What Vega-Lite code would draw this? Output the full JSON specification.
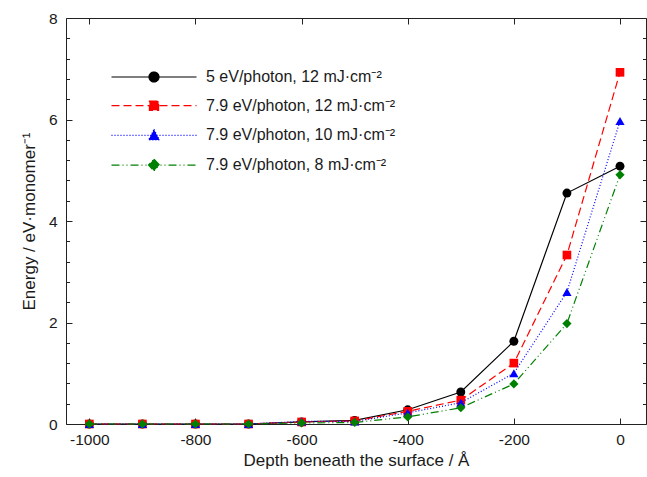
{
  "$schema": "https://vega.github.io/schema/vega-lite/v6.json",
  "width": 580,
  "height": 406,
  "autosize": {"type": "none"},
  "padding": {"left": 66, "top": 18, "right": 1, "bottom": 53},
  "config": {
    "view": {"stroke": "#222", "strokeWidth": 1},
    "font": "Liberation Sans",
    "axis": {"grid": false, "domain": false, "tickColor": "#222", "tickWidth": 1, "labelColor": "#1a1a1a", "titleColor": "#1a1a1a", "labelFont": "Liberation Sans", "titleFont": "Liberation Sans", "labelFontSize": 15.5, "titleFontSize": 17, "titleFontWeight": "normal", "labelFlush": false, "labelOverlap": false}
  },
  "data": {"values": [
    {"x": -1000, "y": 0, "s": "5 eV/photon, 12 mJ·cm⁻²"},
    {"x": -900, "y": 0, "s": "5 eV/photon, 12 mJ·cm⁻²"},
    {"x": -800, "y": 0, "s": "5 eV/photon, 12 mJ·cm⁻²"},
    {"x": -700, "y": 0, "s": "5 eV/photon, 12 mJ·cm⁻²"},
    {"x": -600, "y": 0.04, "s": "5 eV/photon, 12 mJ·cm⁻²"},
    {"x": -500, "y": 0.07, "s": "5 eV/photon, 12 mJ·cm⁻²"},
    {"x": -400, "y": 0.28, "s": "5 eV/photon, 12 mJ·cm⁻²"},
    {"x": -300, "y": 0.63, "s": "5 eV/photon, 12 mJ·cm⁻²"},
    {"x": -200, "y": 1.63, "s": "5 eV/photon, 12 mJ·cm⁻²"},
    {"x": -100, "y": 4.55, "s": "5 eV/photon, 12 mJ·cm⁻²"},
    {"x": 0, "y": 5.08, "s": "5 eV/photon, 12 mJ·cm⁻²"},
    {"x": -1000, "y": 0, "s": "7.9 eV/photon, 12 mJ·cm⁻²"},
    {"x": -900, "y": 0, "s": "7.9 eV/photon, 12 mJ·cm⁻²"},
    {"x": -800, "y": 0, "s": "7.9 eV/photon, 12 mJ·cm⁻²"},
    {"x": -700, "y": 0, "s": "7.9 eV/photon, 12 mJ·cm⁻²"},
    {"x": -600, "y": 0.04, "s": "7.9 eV/photon, 12 mJ·cm⁻²"},
    {"x": -500, "y": 0.06, "s": "7.9 eV/photon, 12 mJ·cm⁻²"},
    {"x": -400, "y": 0.25, "s": "7.9 eV/photon, 12 mJ·cm⁻²"},
    {"x": -300, "y": 0.47, "s": "7.9 eV/photon, 12 mJ·cm⁻²"},
    {"x": -200, "y": 1.2, "s": "7.9 eV/photon, 12 mJ·cm⁻²"},
    {"x": -100, "y": 3.33, "s": "7.9 eV/photon, 12 mJ·cm⁻²"},
    {"x": 0, "y": 6.93, "s": "7.9 eV/photon, 12 mJ·cm⁻²"},
    {"x": -1000, "y": 0, "s": "7.9 eV/photon, 10 mJ·cm⁻²"},
    {"x": -900, "y": 0, "s": "7.9 eV/photon, 10 mJ·cm⁻²"},
    {"x": -800, "y": 0, "s": "7.9 eV/photon, 10 mJ·cm⁻²"},
    {"x": -700, "y": 0, "s": "7.9 eV/photon, 10 mJ·cm⁻²"},
    {"x": -600, "y": 0.05, "s": "7.9 eV/photon, 10 mJ·cm⁻²"},
    {"x": -500, "y": 0.05, "s": "7.9 eV/photon, 10 mJ·cm⁻²"},
    {"x": -400, "y": 0.22, "s": "7.9 eV/photon, 10 mJ·cm⁻²"},
    {"x": -300, "y": 0.42, "s": "7.9 eV/photon, 10 mJ·cm⁻²"},
    {"x": -200, "y": 1.0, "s": "7.9 eV/photon, 10 mJ·cm⁻²"},
    {"x": -100, "y": 2.6, "s": "7.9 eV/photon, 10 mJ·cm⁻²"},
    {"x": 0, "y": 5.97, "s": "7.9 eV/photon, 10 mJ·cm⁻²"},
    {"x": -1000, "y": 0, "s": "7.9 eV/photon, 8 mJ·cm⁻²"},
    {"x": -900, "y": 0, "s": "7.9 eV/photon, 8 mJ·cm⁻²"},
    {"x": -800, "y": 0, "s": "7.9 eV/photon, 8 mJ·cm⁻²"},
    {"x": -700, "y": 0, "s": "7.9 eV/photon, 8 mJ·cm⁻²"},
    {"x": -600, "y": 0.02, "s": "7.9 eV/photon, 8 mJ·cm⁻²"},
    {"x": -500, "y": 0.03, "s": "7.9 eV/photon, 8 mJ·cm⁻²"},
    {"x": -400, "y": 0.14, "s": "7.9 eV/photon, 8 mJ·cm⁻²"},
    {"x": -300, "y": 0.32, "s": "7.9 eV/photon, 8 mJ·cm⁻²"},
    {"x": -200, "y": 0.79, "s": "7.9 eV/photon, 8 mJ·cm⁻²"},
    {"x": -100, "y": 1.98, "s": "7.9 eV/photon, 8 mJ·cm⁻²"},
    {"x": 0, "y": 4.91, "s": "7.9 eV/photon, 8 mJ·cm⁻²"}
  ]},
  "layer": [
    {
      "transform": [{"filter": "datum.s === '5 eV/photon, 12 mJ·cm⁻²'"}],
      "mark": {"type": "line", "strokeWidth": 1.2, "point": {"filled": true, "shape": "circle", "size": 80}},
      "encoding": {
        "x": {"field": "x", "type": "quantitative", "scale": {"domain": [-1044, 49], "nice": false, "zero": false},
          "axis": {"orient": "bottom", "values": [-1000, -800, -600, -400, -200, 0], "labelExpr": "'' + datum.value", "tickSize": -6, "labelPadding": 14, "title": "Depth beneath the surface / Å", "titlePadding": 5}},
        "y": {"field": "y", "type": "quantitative", "scale": {"domain": [0, 8], "nice": false},
          "axis": {"orient": "left", "values": [0, 0.4, 0.8, 1.2, 1.6, 2, 2.4, 2.8, 3.2, 3.6, 4, 4.4, 4.8, 5.2, 5.6, 6, 6.4, 6.8, 7.2, 7.6, 8],
            "labelExpr": "datum.value % 2 === 0 ? '' + datum.value : ''",
            "tickSize": {"condition": {"test": "datum.value % 2 === 0", "value": -6}, "value": -3.5},
            "labelPadding": 15, "title": "Energy / eV·monomer⁻¹", "titlePadding": 10}},
        "color": {"field": "s", "type": "nominal",
          "scale": {"domain": ["5 eV/photon, 12 mJ·cm⁻²", "7.9 eV/photon, 12 mJ·cm⁻²", "7.9 eV/photon, 10 mJ·cm⁻²", "7.9 eV/photon, 8 mJ·cm⁻²"], "range": ["#000000", "#ff0000", "#0000ff", "#008000"]},
          "legend": {"title": null, "orient": "none", "legendX": 80, "legendY": 51, "padding": 0, "symbolSize": 100, "symbolStrokeWidth": 1.2, "labelFontSize": 16, "labelFont": "Liberation Sans", "labelColor": "#1a1a1a", "labelOffset": 44, "rowPadding": 12.7, "labelLimit": 400,
            "encode": {"symbols": {"update": {
              "shape": {"signal": "datum.index === 0 ? 'M-8.5,0L8.5,0M1,0A1,1,0,1,1,-1,0A1,1,0,1,1,1,0Z' : datum.index === 1 ? 'M-8.5,0L8.5,0M-0.92,-0.92L0.92,-0.92L0.92,0.92L-0.92,0.92Z' : datum.index === 2 ? 'M-8.5,0L8.5,0M0,-1.2L1.1,0.9L-1.1,0.9Z' : 'M-8.5,0L8.5,0M0,-1.2L1.1,0L0,1.2L-1.1,0Z'"},
              "strokeDash": {"signal": "datum.index === 1 ? [8,4] : datum.index === 2 ? [1,2] : datum.index === 3 ? [8,3,1,3,1,3] : [1,0]"},
              "fill": {"signal": "datum.index === 0 ? '#000000' : datum.index === 1 ? '#ff0000' : datum.index === 2 ? '#0000ff' : '#008000'"},
              "stroke": {"signal": "datum.index === 0 ? '#000000' : datum.index === 1 ? '#ff0000' : datum.index === 2 ? '#0000ff' : '#008000'"},
              "size": {"value": 100},
              "opacity": {"value": 1},
              "strokeWidth": {"value": 1.2}
            }}}}}
      }
    },
    {
      "transform": [{"filter": "datum.s === '7.9 eV/photon, 12 mJ·cm⁻²'"}],
      "mark": {"type": "line", "strokeWidth": 1.2, "strokeDash": [8, 4], "point": {"filled": true, "shape": "square", "size": 75}},
      "encoding": {
        "x": {"field": "x", "type": "quantitative",
          "axis": {"orient": "top", "values": [-1000, -800, -600, -400, -200, 0], "tickSize": -6, "labels": false, "title": null}},
        "y": {"field": "y", "type": "quantitative",
          "axis": {"orient": "right", "values": [0, 0.4, 0.8, 1.2, 1.6, 2, 2.4, 2.8, 3.2, 3.6, 4, 4.4, 4.8, 5.2, 5.6, 6, 6.4, 6.8, 7.2, 7.6, 8],
            "tickSize": {"condition": {"test": "datum.value % 2 === 0", "value": -6}, "value": -3.5}, "labels": false, "title": null}},
        "color": {"field": "s", "type": "nominal", "legend": null}
      }
    },
    {
      "transform": [{"filter": "datum.s === '7.9 eV/photon, 10 mJ·cm⁻²'"}],
      "mark": {"type": "line", "strokeWidth": 1.2, "strokeDash": [1, 2], "point": {"filled": true, "shape": "triangle-up", "size": 85}},
      "encoding": {
        "x": {"field": "x", "type": "quantitative", "axis": null},
        "y": {"field": "y", "type": "quantitative", "axis": null},
        "color": {"field": "s", "type": "nominal", "legend": null}
      }
    },
    {
      "transform": [{"filter": "datum.s === '7.9 eV/photon, 8 mJ·cm⁻²'"}],
      "mark": {"type": "line", "strokeWidth": 1.2, "strokeDash": [8, 3, 1, 3, 1, 3], "point": {"filled": true, "shape": "diamond", "size": 85}},
      "encoding": {
        "x": {"field": "x", "type": "quantitative", "axis": null},
        "y": {"field": "y", "type": "quantitative", "axis": null},
        "color": {"field": "s", "type": "nominal", "legend": null}
      }
    }
  ],
  "resolve": {"axis": {"x": "independent", "y": "independent"}}
}
